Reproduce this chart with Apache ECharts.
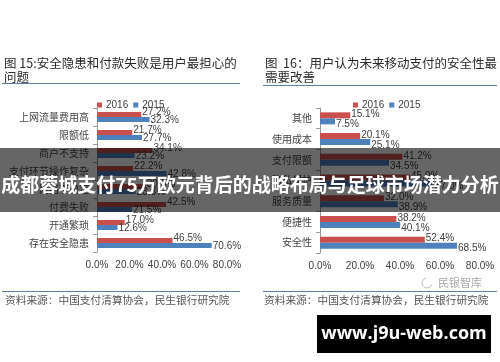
<!DOCTYPE html>
<html><head><meta charset="utf-8">
<script src="https://cdn.jsdelivr.net/npm/echarts@6.0.0/dist/echarts.min.js"></script>
<style>html,body{margin:0;padding:0;background:#fff}#c{width:500px;height:362px}</style>
</head><body><div id="c"></div>
<script>
const leftCats = ['上网流量费用高','限额低','商户不支持','支付环节操作复杂','网络不稳定','付费失败','开通繁琐','存在安全隐患'];
const left2016 = [27.2, 21.7, 34.1, 22.2, 30.0, 42.5, 17.0, 46.5];
const left2015 = [32.3, 27.7, 23.2, 42.8, 23.8, 21.5, 12.6, 70.6];
const rightCats = ['其他','使用成本','支付限额','隐私保护','服务质量','便捷性','安全性'];
const right2016 = [15.1, 20.1, 41.2, 45.0, 32.0, 38.2, 52.4];
const right2015 = [7.5, 25.1, 34.5, 57.0, 38.9, 40.1, 68.5];
const xTicks = [0, 20, 40, 60, 80];
const seriesNames = ['2016', '2015'];
const titleLeft = ['图 15:安全隐患和付款失败是用户最担心的', '问题'];
const titleRight = ['图  16：用户认为未来移动支付的安全性最', '需要改善'];
const sourceText = '资料来源：中国支付清算协会，民生银行研究院';
const bannerText = '成都蓉城支付75万欧元背后的战略布局与足球市场潜力分析';
const watermarkText = 'www.j9u-web.com';

const RED = '#c9504c', BLUE = '#4f81bd';
const cjk = '"Noto Sans CJK SC", sans-serif';
const num = '"Liberation Sans", Arial, sans-serif';

function xAxis(idx) {
  return {
    gridIndex: idx, type: 'value', min: xTicks[0], max: xTicks[xTicks.length-1], interval: 20,
    axisLine: {show: false}, axisTick: {show: false}, splitLine: {show: false},
    axisLabel: {formatter: v => v.toFixed(1) + '%', fontSize: 10, color: '#404040', fontFamily: num, margin: 8}
  };
}
function yAxis(idx, cats) {
  return {
    gridIndex: idx, type: 'category', data: cats, inverse: true,
    axisLine: {show: true, lineStyle: {color: '#999', width: 1}},
    axisTick: {show: true, length: 4, lineStyle: {color: '#999'}},
    axisLabel: {fontSize: 10, color: '#444', fontFamily: cjk, margin: 8}
  };
}
function bar(name, data, idx, color, dy, bw) {
  return {
    name, type: 'bar', xAxisIndex: idx, yAxisIndex: idx, data,
    barWidth: bw, barGap: '0%', itemStyle: {color},
    label: {show: true, position: 'right', distance: 1, offset: [0, dy],
      formatter: p => p.value.toFixed(1) + '%', fontSize: 10, color: '#404040', fontFamily: num}
  };
}
function txt(x, y, text, size, color, extra) {
  return Object.assign({type: 'text', x, y, z: 50, style: Object.assign({text, fill: color, fontSize: size, fontFamily: cjk, verticalAlign: 'middle', align: 'left'}, extra || {})});
}
function ln(x1, y1, x2, y2, color) {
  return {type: 'line', z: 50, shape: {x1, y1, x2, y2}, style: {stroke: color, lineWidth: 1}};
}
function legend(left) {
  return {data: seriesNames, left, top: 95, itemWidth: 5, itemHeight: 5, itemGap: 5, icon: 'rect',
    textStyle: {fontSize: 10, color: '#404040', fontFamily: num, padding: [0, 0, 0, -1]}};
}

const chart = echarts.init(document.getElementById('c'), null, {renderer: 'canvas'});
chart.setOption({
  animation: false,
  backgroundColor: '#fff',
  grid: [
    {left: 97, top: 108, width: 130, height: 144},
    {left: 320, top: 108, width: 160, height: 145}
  ],
  legend: [legend(92), legend(348)],
  xAxis: [xAxis(0), xAxis(1)],
  yAxis: [yAxis(0, leftCats), yAxis(1, rightCats)],
  series: [
    bar(seriesNames[0], left2016, 0, RED, -2, 5),
    bar(seriesNames[1], left2015, 0, BLUE, 1, 5),
    bar(seriesNames[0], right2016, 1, RED, -1, 6),
    bar(seriesNames[1], right2015, 1, BLUE, 3, 6)
  ],
  graphic: [
    txt(4, 63, titleLeft[0], 12.5, '#2a2a2a'),
    txt(4, 77, titleLeft[1], 12.5, '#2a2a2a'),
    ln(2, 83.5, 240, 83.5, '#5b7fa8'),
    txt(265, 63, titleRight[0], 12.5, '#2a2a2a'),
    txt(265, 77, titleRight[1], 12.5, '#2a2a2a'),
    ln(263, 85.5, 497, 85.5, '#5b7fa8'),
    ln(2, 291.5, 240, 291.5, '#5b7fa8'),
    ln(263, 291.5, 497, 291.5, '#5b7fa8'),
    txt(5, 300, sourceText, 10.7, '#555'),
    txt(264, 300, sourceText, 10.7, '#555'),
    {type: 'arc', z: 50, shape: {cx: 427, cy: 283, r: 5, startAngle: 0.3, endAngle: 4.5}, style: {stroke: '#bbb', fill: null, lineWidth: 1}},
    txt(438, 283, '民银智库', 11, '#aaa'),
    {type: 'rect', z: 100, shape: {x: 0, y: 148, width: 500, height: 64}, style: {fill: 'rgba(0,0,0,0.6)'}},
    {type: 'text', z: 101, x: 250, y: 185, style: {text: bannerText, fill: '#fff', fontSize: 19, fontWeight: 'bold', fontFamily: cjk, align: 'center', verticalAlign: 'middle'}},
    {type: 'rect', z: 100, shape: {x: 317, y: 315, width: 174, height: 38}, style: {fill: '#000'}},
    {type: 'text', z: 101, x: 404, y: 334, style: {text: watermarkText, fill: '#fff', fontSize: 18, fontWeight: 'bold', fontFamily: '"Open Sans", "DejaVu Sans", sans-serif', align: 'center', verticalAlign: 'middle'}}
  ]
});
</script></body></html>
